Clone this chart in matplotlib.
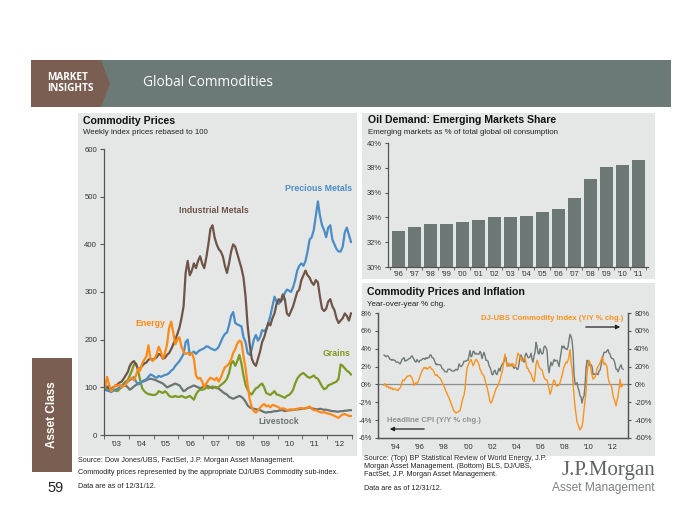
import numpy as np
import matplotlib
matplotlib.use('Agg')
import matplotlib.pyplot as plt
from matplotlib.patches import Rectangle, Polygon

plt.rcParams['font.family'] = ['Liberation Sans', 'DejaVu Sans']

# ---------------- DATA ----------------
# Commodity prices, monthly readings Jan 2003 .. Dec 2012 (rebased to 100)
industrial_metals = [
    100, 102, 98, 97, 100, 103, 106, 110, 112, 118, 125, 132,
    145, 152, 155, 148, 138, 140, 145, 150, 152, 158, 160, 158,
    160, 163, 170, 168, 160, 162, 168, 172, 180, 190, 200, 212,
    225, 245, 270, 340, 365, 335, 345, 360, 350, 365, 375, 360,
    350, 372, 400, 432, 440, 415, 400, 390, 385, 375, 355, 340,
    360, 385, 400, 395, 380, 365, 350, 330, 290, 230, 190, 160,
    150, 145, 160, 175, 195, 205, 220, 235, 230, 245, 255, 275,
    285, 280, 295, 285, 255, 250, 260, 270, 285, 300, 305, 325,
    335, 345, 335, 330, 320, 315, 325, 320, 290, 265, 260, 265,
    280, 285, 270, 262, 245, 235, 240, 245, 255, 250, 240, 255]
precious_metals = [
    95, 93, 92, 90, 93, 95, 97, 100, 103, 105, 108, 112,
    115, 118, 122, 112, 106, 108, 112, 115, 117, 122, 127, 125,
    122, 120, 124, 122, 124, 126, 127, 130, 135, 138, 145, 150,
    155, 162, 170, 195, 200, 168, 172, 175, 170, 175, 178, 180,
    182, 186, 185, 182, 180, 178, 180, 185, 195, 205, 212, 215,
    230, 250, 258, 235, 232, 230, 228, 205, 195, 172, 168, 180,
    200, 210, 198, 205, 220, 218, 222, 235, 250, 270, 290, 280,
    275, 280, 285, 298, 305, 303, 300, 310, 325, 345, 355, 360,
    355, 365, 385, 410, 415, 430, 460, 490, 460, 440, 430, 415,
    435, 440, 410, 400, 390, 385, 385, 395, 425, 435, 420, 405]
energy = [
    100, 122, 105, 92, 98, 105, 103, 106, 100, 103, 106, 112,
    118, 120, 115, 125, 140, 135, 150, 158, 165, 188, 160, 155,
    160, 170, 185, 175, 160, 172, 190, 225, 238, 215, 190, 200,
    205, 185, 175, 170, 172, 168, 172, 160, 125, 118, 120, 112,
    100, 108, 115, 120, 118, 115, 120, 112, 120, 132, 142, 145,
    150, 158, 172, 180, 192, 198, 195, 165, 140, 105, 75, 58,
    50, 47, 52, 57, 62, 65, 60, 62, 58, 63, 62, 60,
    58, 55, 56, 55, 52, 53, 54, 52, 54, 55, 56, 57,
    55, 55, 58, 60, 55, 52, 52, 50, 48, 47, 48, 46,
    45, 44, 42, 40, 38, 36, 40, 43, 44, 42, 40, 40]
grains = [
    97, 95, 93, 94, 95, 93, 92, 96, 102, 108, 112, 115,
    125, 135, 148, 150, 135, 115, 98, 92, 88, 86, 85, 84,
    84, 86, 92, 90, 88, 92, 88, 82, 80, 80, 82, 80,
    80, 82, 80, 78, 80, 82, 78, 74, 85, 92, 95, 95,
    96, 100, 98, 100, 102, 100, 98, 101, 105, 108, 112, 118,
    130, 150, 155, 145, 155, 168, 150, 125, 105, 95, 88, 85,
    92, 98, 100, 105, 108, 100, 88, 86, 84, 88, 92, 85,
    84, 82, 80, 78, 82, 84, 88, 95, 108, 118, 124, 128,
    130, 126, 122, 120, 122, 125, 120, 118, 110, 102, 96, 98,
    104, 106, 108, 110, 112, 118, 148, 145, 140, 135, 132, 127]
livestock = [
    98, 96, 93, 94, 95, 94, 95, 98, 100, 103, 104, 100,
    95, 98, 102, 105, 108, 110, 112, 113, 115, 117, 118, 117,
    116, 114, 112, 110, 108, 104, 100, 102, 104, 106, 108, 106,
    104, 98, 92, 94, 98, 100, 102, 104, 102, 100, 98, 100,
    102, 104, 102, 100, 98, 101, 100, 97, 94, 90, 87, 85,
    80, 78, 76, 78, 80, 82, 80, 76, 70, 62, 58, 56,
    55, 54, 53, 52, 50, 48, 47, 48, 48, 49, 50, 50,
    51, 52, 52, 50, 51, 52, 52, 53, 53, 54, 54, 55,
    55, 56, 57, 58, 56, 55, 54, 54, 55, 54, 53, 53,
    52, 51, 50, 50, 49, 49, 50, 50, 51, 51, 52, 52]
price_years = ["'03", "'04", "'05", "'06", "'07", "'08", "'09", "'10", "'11", "'12"]

# Oil demand: emerging markets share (%)
oil_years = ["'96", "'97", "'98", "'99", "'00", "'01", "'02", "'03",
             "'04", "'05", "'06", "'07", "'08", "'09", "'10", "'11"]
oil_share = [32.9, 33.2, 33.45, 33.45, 33.6, 33.8, 34.05, 34.0,
             34.15, 34.45, 34.7, 35.6, 37.1, 38.05, 38.2, 38.6]

# Headline CPI y/y % (monthly Jan 1993 .. Dec 2012)
cpi = [
    3.3, 3.2, 3.1, 3.2, 3.2, 3.0, 2.8, 2.8, 2.7, 2.8, 2.7, 2.7,
    2.5, 2.5, 2.5, 2.4, 2.3, 2.5, 2.8, 2.9, 3.0, 2.6, 2.7, 2.7,
    2.8, 2.9, 2.9, 3.1, 3.2, 3.0, 2.8, 2.6, 2.5, 2.8, 2.6, 2.5,
    2.7, 2.7, 2.8, 2.9, 2.9, 2.8, 3.0, 2.9, 3.0, 3.0, 3.3, 3.3,
    3.0, 3.0, 2.8, 2.5, 2.2, 2.3, 2.2, 2.2, 2.2, 2.1, 1.8, 1.7,
    1.6, 1.4, 1.4, 1.4, 1.7, 1.7, 1.7, 1.6, 1.5, 1.5, 1.5, 1.6,
    1.7, 1.6, 1.7, 2.3, 2.1, 2.0, 2.1, 2.3, 2.6, 2.6, 2.6, 2.7,
    2.7, 3.2, 3.8, 3.1, 3.2, 3.7, 3.7, 3.4, 3.5, 3.4, 3.4, 3.4,
    3.7, 3.5, 2.9, 3.3, 3.6, 3.2, 2.7, 2.7, 2.6, 2.1, 1.9, 1.6,
    1.1, 1.1, 1.5, 1.6, 1.2, 1.1, 1.5, 1.8, 1.5, 2.0, 2.2, 2.4,
    2.6, 3.0, 3.0, 2.2, 2.1, 2.1, 2.1, 2.2, 2.3, 2.0, 1.8, 1.9,
    1.9, 1.7, 1.7, 2.3, 3.1, 3.3, 3.0, 2.7, 2.5, 3.2, 3.5, 3.3,
    3.0, 3.0, 3.1, 3.5, 2.8, 2.5, 3.2, 3.6, 4.7, 4.3, 3.5, 3.4,
    4.0, 3.6, 3.4, 3.5, 4.2, 4.3, 4.1, 3.8, 2.1, 1.3, 2.0, 2.5,
    2.1, 2.4, 2.8, 2.6, 2.7, 2.7, 2.4, 2.0, 2.8, 3.5, 4.3, 4.1,
    4.3, 4.0, 4.0, 3.9, 4.2, 5.0, 5.6, 5.4, 4.9, 3.7, 1.1, 0.1,
    0.0, 0.2, -0.4, -0.7, -1.3, -1.4, -2.1, -1.5, -1.3, -0.2, 1.8, 2.7,
    2.6, 2.1, 2.3, 2.2, 2.0, 1.1, 1.2, 1.1, 1.1, 1.2, 1.1, 1.5,
    1.6, 2.1, 2.7, 3.2, 3.6, 3.6, 3.6, 3.8, 3.9, 3.5, 3.4, 3.0,
    2.9, 2.9, 2.7, 2.3, 1.7, 1.7, 1.4, 1.7, 2.0, 2.2, 1.8, 1.7]
# DJ-UBS Commodity Index y/y % (monthly Jan 1993 .. Dec 2012)
djubs = [
    -1, 1, -2, -3, -2, -4, -3, -5, -4, -6, -5, -5,
    -6, -6, -7, -5, -4, -2, 3, 5, 4, 6, 7, 9,
    9, 10, 10, 9, 7, 4, -1, 0, 2, 1, 3, 6,
    9, 12, 15, 17, 19, 18, 19, 17, 18, 19, 20, 18,
    17, 16, 14, 11, 10, 11, 9, 8, 7, 5, 3, 0,
    -2, -5, -8, -10, -13, -15, -18, -21, -24, -27, -30, -31,
    -32, -31, -31, -30, -29, -25, -19, -15, -12, -5, 8, 18,
    21, 24, 26, 28, 25, 21, 23, 26, 28, 27, 25, 22,
    17, 15, 12, 11, 9, 5, 0, -3, -8, -14, -19, -21,
    -19, -15, -12, -8, -5, -3, -1, 2, 5, 10, 13, 20,
    28, 34, 26, 20, 22, 24, 21, 22, 20, 23, 22, 20,
    22, 30, 35, 33, 31, 28, 26, 27, 29, 30, 24, 18,
    18, 15, 13, 12, 8, 5, 3, 10, 22, 27, 24, 20,
    18, 17, 16, 12, 8, 6, 5, 5, 0, -5, -11, -8,
    -3, 2, 5, 3, -1, -2, -1, -1, 2, 6, 10, 15,
    20, 22, 25, 24, 27, 32, 39, 25, 18, 3, -13, -25,
    -34, -42, -45, -48, -51, -49, -47, -40, -28, -18, -9, 12,
    22, 27, 24, 16, 10, 6, 7, 8, 12, 18, 20, 22,
    24, 27, 31, 28, 22, 24, 22, 20, 8, 3, 0, -1,
    -5, -13, -16, -20, -24, -18, -13, -5, 6, -3, -2, 0]
infl_years = ["'94", "'96", "'98", "'00", "'02", "'04", "'06", "'08", "'10", "'12"]

# ---------------- FIGURE ----------------
W, H = 700, 525
fig = plt.figure(figsize=(7, 5.25), dpi=100)
fig.patch.set_facecolor('white')

def rect(x0, y0, x1, y1):
    return [x0 / W, 1 - y1 / H, (x1 - x0) / W, (y1 - y0) / H]

bg = fig.add_axes([0, 0, 1, 1])
bg.set_xlim(0, W); bg.set_ylim(H, 0); bg.axis('off')

PANEL = '#e5e6e6'
HEAD = '#6b7a77'
BROWN = '#7a5e51'

# header band
bg.add_patch(Rectangle((31, 60), 640, 47, color=HEAD, lw=0))
bg.add_patch(Polygon([(31, 60), (101, 60), (110, 83.5), (101, 107), (31, 107)],
                     closed=True, color=BROWN, lw=0))
bg.text(47, 77, 'MARKET', color='white', fontsize=7.2, fontweight='bold',
        family=['Open Sans', 'DejaVu Sans'], va='center')
bg.text(47, 88.5, 'INSIGHTS', color='white', fontsize=7.2, fontweight='bold',
        family=['Open Sans', 'DejaVu Sans'], va='center')
bg.text(143, 83, 'Global Commodities', color='white', fontsize=9.9,
        family=['Open Sans', 'DejaVu Sans'], va='center')

# panels
bg.add_patch(Rectangle((78, 113), 279, 343, color=PANEL, lw=0))
bg.add_patch(Rectangle((362, 113), 293, 166, color=PANEL, lw=0))
bg.add_patch(Rectangle((362, 283), 293, 173, color=PANEL, lw=0))

# asset class box
bg.add_patch(Rectangle((32, 358), 40, 114, color=BROWN, lw=0))
bg.text(52, 415, 'Asset Class', color='white', fontsize=8.5, fontweight='bold',
        rotation=90, ha='center', va='center')
bg.text(56, 488, '59', color='#222222', fontsize=10.5, ha='center', va='center')

# titles
bg.text(83, 121, 'Commodity Prices', fontsize=7.6, fontweight='bold', va='center', color='#111111')
bg.text(83, 133, 'Weekly index prices rebased to 100', fontsize=5.7, va='center', color='#222222')
bg.text(368, 120, 'Oil Demand: Emerging Markets Share', fontsize=7.6, fontweight='bold', va='center', color='#111111')
bg.text(368, 133, 'Emerging markets as % of total global oil consumption', fontsize=5.7, va='center', color='#222222')
bg.text(367, 292, 'Commodity Prices and Inflation', fontsize=7.6, fontweight='bold', va='center', color='#111111')
bg.text(367, 304, 'Year-over-year % chg.', fontsize=5.7, va='center', color='#222222')

# footnotes
fn = dict(fontsize=5.2, va='center', color='#222222')
bg.text(78, 460, 'Source: Dow Jones/UBS, FactSet, J.P. Morgan Asset Management.', **fn)
bg.text(78, 473, 'Commodity prices represented by the appropriate DJ/UBS Commodity sub-index.', **fn)
bg.text(78, 486, 'Data are as of 12/31/12.', **fn)
bg.text(364, 459, 'Source: (Top) BP Statistical Review of World Energy, J.P.', **fn)
bg.text(364, 467, 'Morgan Asset Management. (Bottom) BLS, DJ/UBS,', **fn)
bg.text(364, 475, 'FactSet, J.P. Morgan Asset Management.', **fn)
bg.text(364, 489, 'Data are as of 12/31/12.', **fn)
bg.text(655, 470, 'J.P.Morgan', fontsize=15, family=['Liberation Serif', 'DejaVu Serif'],
        color='#5f6462', ha='right', va='center')
bg.text(655, 488, 'Asset Management', fontsize=8.6, color='#7d8280', ha='right', va='center')

SP = '#555555'
TICKC = '#333333'

# ---------------- LEFT CHART ----------------
t = 2003 + (np.arange(len(energy)) + 0.5) / 12
ax = fig.add_axes(rect(104, 149, 352, 435))
ax.set_facecolor('none')
ax.set_xlim(2003, 2013)
ax.set_ylim(0, 600)
ax.plot(t, livestock, color='#6b7573', lw=1.6)
ax.plot(t, grains, color='#7b9a22', lw=1.6)
ax.plot(t, precious_metals, color='#4a8dc6', lw=1.6)
ax.plot(t, industrial_metals, color='#6e5447', lw=1.6)
ax.plot(t, energy, color='#ff8a15', lw=1.6)
for s in ['top', 'right']:
    ax.spines[s].set_visible(False)
for s in ['left', 'bottom']:
    ax.spines[s].set_color(SP); ax.spines[s].set_linewidth(0.9)
ax.set_yticks(range(0, 601, 100))
ax.set_xticks(np.arange(2003.5, 2013, 1.0))
ax.set_xticklabels(price_years)
ax.set_xticks(np.arange(2003, 2014, 1.0), minor=True)
ax.tick_params(axis='x', which='major', length=0, labelsize=5.6, colors=TICKC, pad=4)
ax.tick_params(axis='x', which='minor', length=3, color=SP)
ax.tick_params(axis='y', length=3, labelsize=5.6, colors=TICKC, color=SP, pad=2)
lab = dict(fontsize=6.3, fontweight='bold', va='center')
ax.text(2011.65, 518, 'Precious Metals', color='#4a8dc6', ha='center', **lab)
ax.text(2007.44, 470, 'Industrial Metals', color='#6e5447', ha='center', **lab)
ax.text(2004.85, 233, 'Energy', color='#ff8a15', ha='center', **lab)
ax.text(2012.95, 170, 'Grains', color='#7b9a22', ha='right', **lab)
ax.text(2010.03, 29, 'Livestock', color='#6b7573', ha='center', **lab)

# ---------------- RIGHT TOP: BARS ----------------
axb = fig.add_axes(rect(388, 143, 648, 267))
axb.set_facecolor('none')
xb = np.arange(len(oil_share))
axb.bar(xb, oil_share, width=0.8, color='#6b7875', zorder=2)
axb.set_ylim(30, 40)
axb.set_xlim(-0.63, len(oil_share) - 0.4)
axb.set_yticks(range(30, 41, 2))
axb.set_yticklabels([f'{v}%' for v in range(30, 41, 2)])
axb.set_xticks(xb)
axb.set_xticklabels(oil_years)
axb.set_xticks(np.arange(-0.5, len(oil_share), 1.0), minor=True)
for s in ['top', 'right']:
    axb.spines[s].set_visible(False)
for s in ['left', 'bottom']:
    axb.spines[s].set_color(SP); axb.spines[s].set_linewidth(0.9)
axb.tick_params(axis='x', which='major', length=0, labelsize=5.4, colors=TICKC, pad=3)
axb.tick_params(axis='x', which='minor', length=2.5, color=SP)
axb.tick_params(axis='y', length=2.5, labelsize=5.4, colors=TICKC, color=SP, pad=2)

# ---------------- RIGHT BOTTOM: INFLATION ----------------
tm = 1993 + np.arange(len(cpi)) / 12
axc = fig.add_axes(rect(378, 313, 628, 438))
axc.set_facecolor('none')
axc.set_xlim(1992.5, 2013.33)
axc.set_ylim(-6, 8)
axc.axhline(0, color='#8a8f8e', lw=0.9, zorder=1)
axc.plot(tm, cpi, color='#6f7a77', lw=1.0, zorder=2)
axc.set_yticks(range(-6, 9, 2))
axc.set_yticklabels([f'{v}%' for v in range(-6, 9, 2)])
axc.set_xticks(np.arange(1994, 2013, 2))
axc.set_xticklabels(infl_years)
for s in ['top']:
    axc.spines[s].set_visible(False)
for s in ['left', 'bottom', 'right']:
    axc.spines[s].set_color(SP); axc.spines[s].set_linewidth(0.9)
axc.tick_params(axis='x', length=0, labelsize=5.4, colors=TICKC, pad=4)
axc.tick_params(axis='y', length=2.5, labelsize=5.4, colors=TICKC, color=SP, pad=2)

axd = axc.twinx()
axd.set_ylim(-60, 80)
axd.plot(tm, djubs, color='#f7931e', lw=1.0, zorder=3)
axd.set_yticks(range(-60, 81, 20))
axd.set_yticklabels([f'{v}%' for v in range(-60, 81, 20)])
axd.spines['top'].set_visible(False)
for s in ['left', 'bottom', 'right']:
    axd.spines[s].set_color(SP); axd.spines[s].set_linewidth(0.9)
axd.tick_params(axis='y', length=2.5, labelsize=5.4, colors=TICKC, color=SP, pad=2)

bg.text(623, 319, 'DJ-UBS Commodity Index (Y/Y % chg.)', color='#f7931e', fontsize=5.6,
        fontweight='bold', ha='right', va='center')
bg.annotate('', xy=(623, 327), xytext=(583, 327),
            arrowprops=dict(arrowstyle='-|>', color='#222222', lw=0.9, mutation_scale=6))
bg.text(387, 421, 'Headline CPI (Y/Y % chg.)', color='#8c9391', fontsize=5.6,
        fontweight='bold', ha='left', va='center')
bg.annotate('', xy=(387, 429), xytext=(427, 429),
            arrowprops=dict(arrowstyle='-|>', color='#222222', lw=0.9, mutation_scale=6))

fig.savefig('out.png', dpi=100, facecolor='white')
